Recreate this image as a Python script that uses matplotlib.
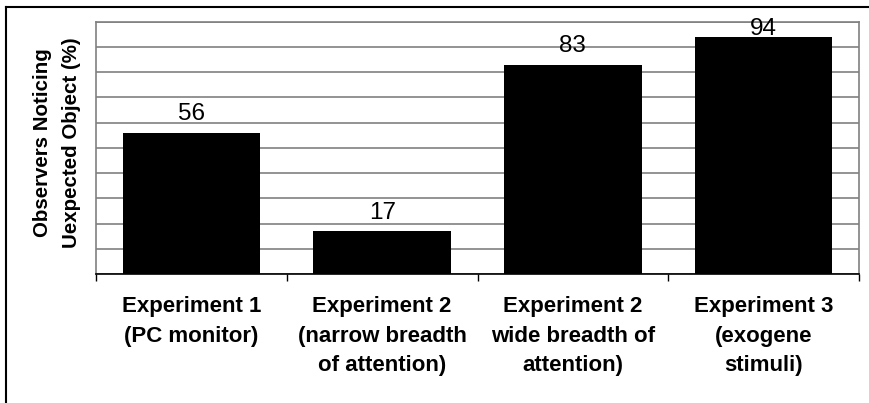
import matplotlib
matplotlib.use('Agg')
import matplotlib.pyplot as plt
from matplotlib.lines import Line2D

conditions = ['Experiment 1\n(PC monitor)',
              'Experiment 2\n(narrow breadth\nof attention)',
              'Experiment 2\nwide breadth of\nattention)',
              'Experiment 3\n(exogene\nstimuli)']
noticing = [56, 17, 83, 94]

plt.rcParams['font.family'] = ['Liberation Sans', 'DejaVu Sans']

fig = plt.figure(figsize=(8.69, 4.03), dpi=100)
ax = fig.add_axes([0.1105, 0.320, 0.878, 0.626])

x = list(range(len(noticing)))
ax.bar(x, noticing, width=0.72, color='black', zorder=3)

# value labels sit just above each bar, kept from running off the top
for xi, v in zip(x, noticing):
    ax.text(xi, min(v + 5.0, 94.7), str(v), ha='center', va='baseline',
            fontsize=17.5, zorder=4)

ax.set_xlim(-0.5, len(noticing) - 0.5)
ax.set_ylim(0, 100)

# horizontal grid every 10 %, no y labels
ax.set_yticks(range(0, 101, 10))
ax.set_yticklabels([])
ax.tick_params(axis='y', length=0)
ax.grid(axis='y', color='#808080', linewidth=1.2, zorder=0)

# category labels in the middle, tick marks at the boundaries
ax.set_xticks(x)
ax.set_xticklabels(conditions, fontsize=16, fontweight='bold',
                   linespacing=1.52)
ax.tick_params(axis='x', which='major', length=0, pad=16)
ax.set_xticks([i - 0.5 for i in range(len(noticing) + 1)], minor=True)
ax.tick_params(axis='x', which='minor', length=5, width=1, color='black',
               direction='out')

for side in ['left', 'top', 'right']:
    ax.spines[side].set_color('#808080')
    ax.spines[side].set_linewidth(1.2)
ax.spines['bottom'].set_color('black')
ax.spines['bottom'].set_linewidth(1.2)

fig.text(57 / 869, 1 - 143 / 403,
         'Observers Noticing\nUexpected Object (%)',
         rotation=90, ha='center', va='center', fontsize=14.8,
         fontweight='bold', linespacing=1.72, multialignment='center')

# outer frame (left and top edges)
fig.add_artist(Line2D([6 / 869, 6 / 869], [0, 1 - 7 / 403],
                      color='black', linewidth=1.5, transform=fig.transFigure))
fig.add_artist(Line2D([6 / 869, 1], [1 - 7 / 403, 1 - 7 / 403],
                      color='black', linewidth=1.5, transform=fig.transFigure))

fig.savefig('out.png', dpi=100)
